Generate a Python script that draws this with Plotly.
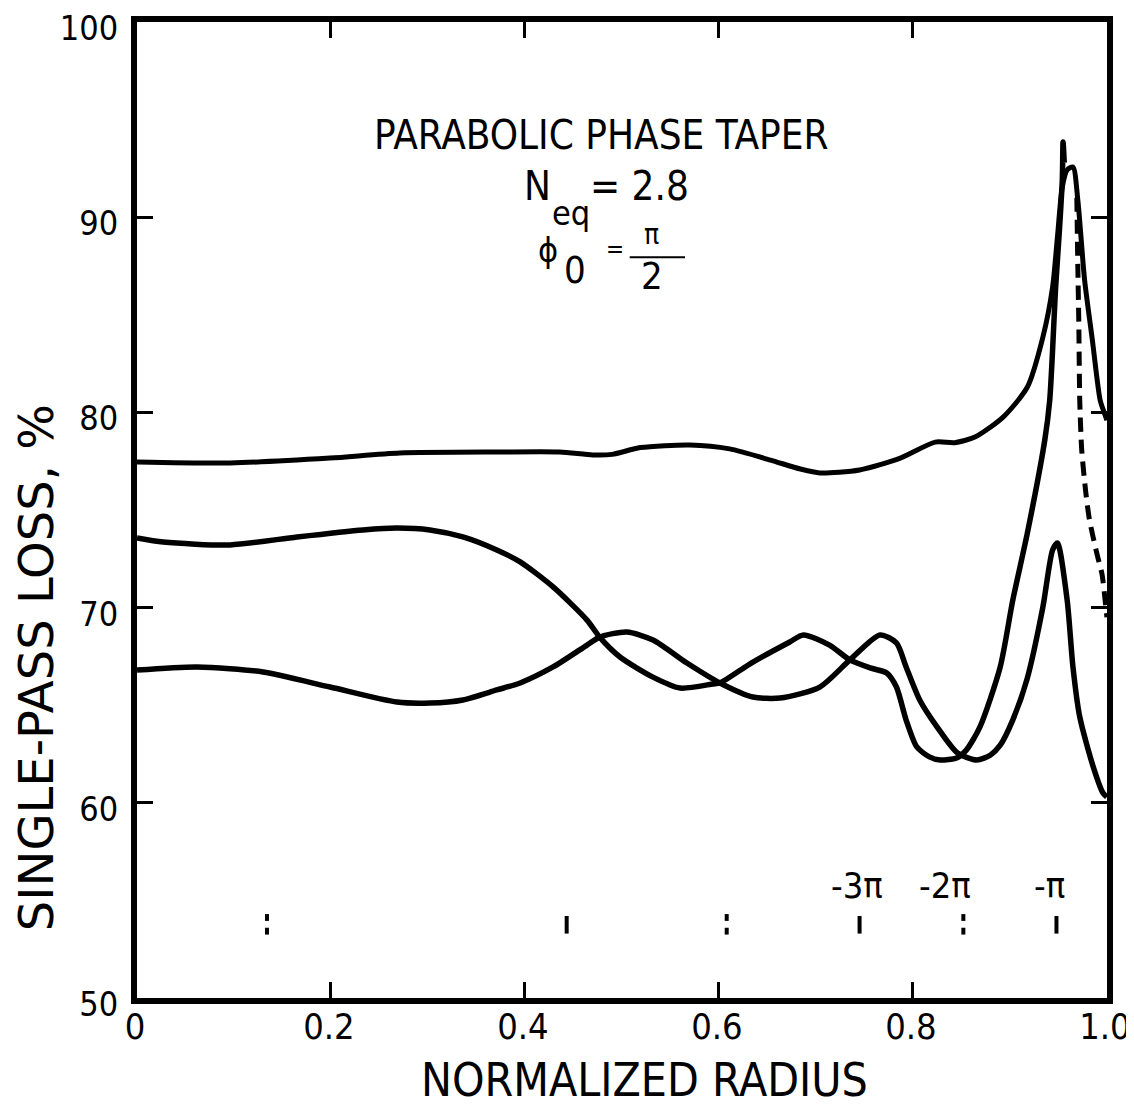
import plotly.graph_objects as go

# ---------------- data ----------------
# Upper curve
a_x = [0.0, 0.096, 0.199, 0.271, 0.374, 0.436, 0.470, 0.490, 0.519, 0.570, 0.611, 0.653,
       0.684, 0.704, 0.745, 0.787, 0.823, 0.843, 0.864, 0.893, 0.918, 0.934, 0.944, 0.949,
       0.954, 0.959, 0.965, 0.970, 0.977, 0.985, 0.993, 0.997, 1.0]
a_y = [77.46, 77.41, 77.66, 77.92, 77.97, 77.97, 77.82, 77.85, 78.20, 78.33, 78.13, 77.56,
       77.10, 76.90, 77.05, 77.66, 78.48, 78.45, 78.74, 79.76, 81.30, 83.86, 86.42, 88.99,
       91.55, 92.42, 92.57, 90.88, 86.78, 83.71, 80.64, 80.02, 79.6]

# Middle curve (starts near 73.5)
b_x = [0.0, 0.027, 0.096, 0.165, 0.233, 0.268, 0.302, 0.336, 0.371, 0.395, 0.429, 0.464,
       0.477, 0.498, 0.532, 0.560, 0.594, 0.601, 0.635, 0.673, 0.687, 0.714, 0.735, 0.756,
       0.773, 0.783, 0.793, 0.804, 0.817, 0.828, 0.845, 0.855, 0.869, 0.890, 0.903, 0.918,
       0.936, 0.941, 0.944, 0.947, 0.951, 0.954, 0.9548, 0.956]
b_y = [73.57, 73.36, 73.21, 73.62, 73.98, 74.08, 73.98, 73.62, 72.95, 72.34, 71.06, 69.36,
       68.49, 67.47, 66.44, 65.88, 66.09, 66.14, 67.21, 68.24, 68.60, 68.08, 67.32, 66.91,
       66.65, 65.93, 64.24, 62.86, 62.35, 62.19, 62.30, 62.70, 63.88, 66.96, 70.39, 73.82,
       78.6, 80.6, 83.2, 86.3, 89.3, 91.9, 93.85, 92.8]

# Lower curve (starts near 66.8)
c_x = [0.0, 0.062, 0.130, 0.199, 0.268, 0.302, 0.336, 0.371, 0.395, 0.429, 0.464, 0.477,
       0.505, 0.532, 0.567, 0.601, 0.635, 0.663, 0.704, 0.735, 0.766, 0.783, 0.793, 0.807,
       0.825, 0.846, 0.866, 0.880, 0.890, 0.903, 0.918, 0.934, 0.944, 0.949, 0.959, 0.965,
       0.972, 0.986, 0.996, 1.0]
c_y = [66.80, 66.96, 66.70, 65.93, 65.16, 65.11, 65.27, 65.78, 66.14, 66.96, 68.08, 68.49,
       68.75, 68.34, 67.16, 66.14, 65.42, 65.37, 65.93, 67.32, 68.60, 68.19, 66.96, 65.27,
       63.88, 62.55, 62.19, 62.45, 62.95, 64.25, 66.40, 70.03, 72.95, 73.31, 70.39, 66.96,
       64.40, 61.83, 60.50, 60.30]

# Dashed branch near the edge
d_x = [0.969, 0.970, 0.971, 0.972, 0.974, 0.978, 0.982, 0.990, 0.995, 1.0]
d_y = [91.0, 87.5, 84.7, 80.6, 78.1, 76.0, 74.5, 72.7, 71.7, 69.5]

# Phase markers
mark_x = [0.134, 0.443, 0.608, 0.745, 0.852, 0.948]
mark_kind = ["double", "single", "double", "single", "double", "single"]
lbl_x = [0.742, 0.833, 0.941]
lbl_text = ["-3\u03c0", "-2\u03c0", "-\u03c0"]

x_ticks = [0, 0.2, 0.4, 0.6, 0.8, 1.0]
x_ticktext = ["0", "0.2", "0.4", "0.6", "0.8", "1.0"]
y_ticks = [50, 60, 70, 80, 90, 100]

FONT = "DejaVu Sans Condensed, Liberation Sans Narrow, Arial Narrow, Liberation Sans, sans-serif"
WIDE = "DejaVu Sans, Liberation Sans, sans-serif"

fig = go.Figure()
line_style = dict(color="black", width=5.5, shape="spline", smoothing=0.7)
fig.add_trace(go.Scatter(x=a_x, y=a_y, mode="lines", line=dict(line_style, width=5), hoverinfo="skip"))
fig.add_trace(go.Scatter(x=b_x, y=b_y, mode="lines", line=line_style, hoverinfo="skip"))
fig.add_trace(go.Scatter(x=c_x, y=c_y, mode="lines", line=line_style, hoverinfo="skip"))
fig.add_trace(go.Scatter(x=d_x, y=d_y, mode="lines",
                         line=dict(color="black", width=5, dash="14px,8px", shape="spline", smoothing=0.6),
                         hoverinfo="skip"))

# phase tick marks
mx, my = [], []
for x, k in zip(mark_x, mark_kind):
    if k == "single":
        mx += [x, x, None]
        my += [54.2, 53.3, None]
    else:
        mx += [x, x, None, x, x, None]
        my += [54.3, 53.95, None, 53.6, 53.25, None]
fig.add_trace(go.Scatter(x=mx, y=my, mode="lines", line=dict(color="black", width=4), hoverinfo="skip"))

annotations = []

def txt(x, y, t, size, family=FONT, **kw):
    d = dict(x=x, y=y, xref="x", yref="y", text=t, showarrow=False,
             xanchor="center", yanchor="middle",
             font=dict(size=size, family=family, color="black"))
    d.update(kw)
    annotations.append(d)

for x, t in zip(lbl_x, lbl_text):
    txt(x, 55.75, t, 36)

txt(0.479, 94.2, "PARABOLIC PHASE TAPER", 40)
txt(0.413, 91.6, "N", 40)
txt(0.447, 90.2, "eq", 34)
txt(0.518, 91.6, "= 2.8", 40)
txt(0.424, 88.3, "\u03d5", 34)
txt(0.452, 87.3, "0", 38)
txt(0.493, 88.35, "=", 24)
txt(0.530, 89.1, "\u03c0", 28)
txt(0.531, 87.0, "2", 38)

annotations.append(dict(x=0.523, y=-0.084, xref="paper", yref="paper", text="NORMALIZED RADIUS",
                        xanchor="center", yanchor="middle",
                        showarrow=False, font=dict(size=46, family=FONT, color="black")))
annotations.append(dict(x=-0.1041, y=0.338, xref="paper", yref="paper", text="SINGLE-PASS LOSS, %",
                        xanchor="center", yanchor="middle",
                        textangle=-90, showarrow=False, font=dict(size=48, family=WIDE, color="black")))

fig.add_shape(type="line", x0=0.508, x1=0.565, y0=87.95, y1=87.95, xref="x", yref="y",
              line=dict(color="black", width=2))

# the page body adds an 8 px offset; margins below compensate for it
fig.update_layout(
    width=1134, height=1106,
    margin=dict(l=129, r=35, t=14, b=116, autoexpand=False),
    paper_bgcolor="white", plot_bgcolor="white",
    showlegend=False,
    annotations=annotations,
    font=dict(family=FONT, color="black"),
)
fig.update_xaxes(range=[0, 1.0001], tickvals=x_ticks, ticktext=x_ticktext, showgrid=False, zeroline=False,
                 showline=True, linewidth=6, linecolor="black", mirror="ticks", automargin=False,
                 ticks="inside", ticklen=16, tickwidth=3, tickcolor="black",
                 ticklabelstandoff=-8, ticklabelshift=-2, ticklabeloverflow="allow",
                 tickfont=dict(size=36, family=FONT, color="black"))
fig.update_yaxes(range=[50, 100.001], tickvals=y_ticks, showgrid=False, zeroline=False,
                 showline=True, linewidth=6, linecolor="black", mirror="ticks", automargin=False,
                 ticks="inside", ticklen=16, tickwidth=3, tickcolor="black", ticklabelstandoff=6,
                 ticklabelshift=6, ticklabeloverflow="allow",
                 tickfont=dict(size=34, family=FONT, color="black"))

fig.write_html("out.html")
